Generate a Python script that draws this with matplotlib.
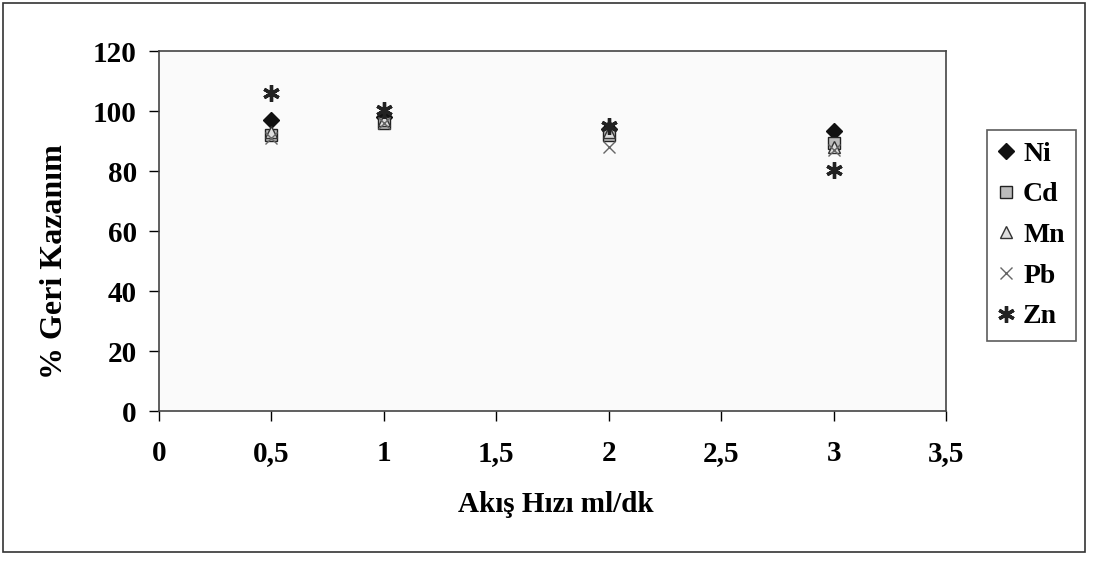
import matplotlib
matplotlib.use("Agg")
import matplotlib.pyplot as plt
from matplotlib.patches import Rectangle

x_vals = [0.5, 1, 2, 3]
ni = [97, 98, 94, 93.5]
cd = [92, 96, 92, 89.5]
mn = [93, 97, 93, 88]
pb = [91, 96, 88, 87]
zn = [106, 100.5, 95, 80.5]
series_names = ["Ni", "Cd", "Mn", "Pb", "Zn"]
x_ticks = [0, 0.5, 1, 1.5, 2, 2.5, 3, 3.5]
x_tick_labels = ["0", "0,5", "1", "1,5", "2", "2,5", "3", "3,5"]
y_ticks = [0, 20, 40, 60, 80, 100, 120]

plt.rcParams['font.family'] = ['Liberation Serif', 'DejaVu Serif']

fig = plt.figure(figsize=(10.94, 5.64), dpi=100)
W, H = 1094, 564
ax = fig.add_axes([159 / W, 1 - 411 / H, (946 - 159) / W, (411 - 51) / H])

styles = [
    dict(marker="D", color="#111111", ms=8, mfc="#111111", mec="#111111"),
    dict(marker="s", color="#333333", ms=9, mfc="#bbbbbb", mec="#222222"),
    dict(marker="^", color="#444444", ms=9, mfc="#dddddd", mec="#333333"),
    dict(marker="x", color="#666666", ms=9, mew=1.0),
    dict(marker=(6, 2, 0), color="#222222", ms=12, mew=2.4),
]
data = [ni, cd, mn, pb, zn]
for name, vals, st in zip(series_names, data, styles):
    ax.plot(x_vals, vals, linestyle="none", label=name, **st)

ax.set_xlim(0, 3.5)
ax.set_ylim(0, 120)
ax.set_xticks(x_ticks)
ax.set_xticklabels(x_tick_labels)
ax.set_yticks(y_ticks)
for lab in ax.get_xticklabels() + ax.get_yticklabels():
    lab.set_fontweight("bold")
    lab.set_fontsize(21)
ax.tick_params(axis="both", direction="out", length=7, width=1)
ax.tick_params(axis="x", pad=14)
ax.tick_params(axis="y", pad=9)
for s in ax.spines.values():
    s.set_color("#444444")
    s.set_linewidth(1.2)
ax.set_facecolor("#fafafa")

fig.text(556 / W, 1 - 505 / H, "Akış Hızı ml/dk", fontsize=21,
         fontweight="bold", ha="center", va="center")
fig.text(55 / W, 1 - 262 / H, "% Geri Kazanım", fontsize=23,
         fontweight="bold", ha="center", va="center", rotation=90)

leg = fig.legend(loc="upper left", bbox_to_anchor=(987 / W, 1 - 130 / H),
                 frameon=True, fancybox=False, edgecolor="#333333",
                 prop=dict(size=20, weight="bold"), handlelength=0.6,
                 handletextpad=0.3, labelspacing=0.55, borderpad=0.4,
                 borderaxespad=0)
leg.get_frame().set_linewidth(1.2)

fig.patches.append(Rectangle((3 / W, 12 / H), (1085 - 3) / W, (552 - 3) / H,
                             transform=fig.transFigure, fill=False,
                             edgecolor="#333333", linewidth=1.2))

fig.savefig("out.png", dpi=100)
